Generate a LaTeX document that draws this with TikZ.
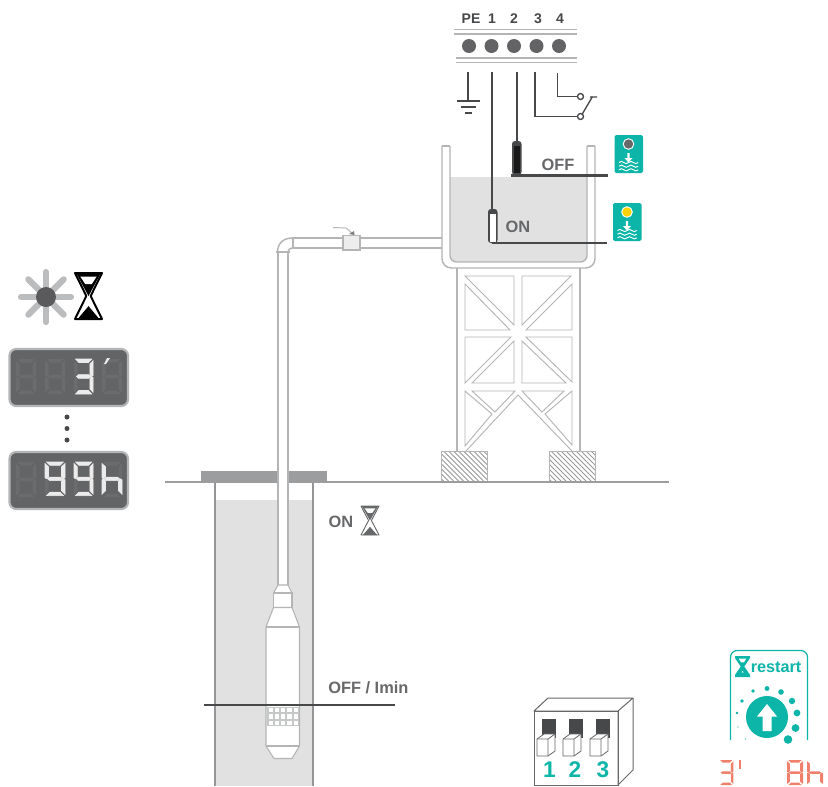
\documentclass[tikz,border=0pt]{standalone}
\usepackage{fontspec}
\setmainfont{Liberation Sans}
\definecolor{teal1}{HTML}{0DB5A9}
\definecolor{txt}{HTML}{67686A}
\definecolor{dark}{HTML}{47484A}
\definecolor{pipeg}{HTML}{B4B5B6}
\definecolor{waterg}{HTML}{E1E1E1}
\definecolor{dispbg}{HTML}{636466}
\definecolor{dispgh}{HTML}{6B6C6E}
\definecolor{redseg}{HTML}{F0806C}
\definecolor{segw}{HTML}{EBEBEB}
\tikzset{
 pipeline/.style={draw=pipeg,line width=1.1pt},
 thinline/.style={draw=pipeg,line width=.7pt},
 wire/.style={draw=dark,line width=1pt},
 levelline/.style={draw=dark,line width=1.7pt},
 bar/.style={draw=pipeg,line width=1pt},
 lab/.style={font=\fontsize{12.3}{14}\selectfont\bfseries,text=txt,inner sep=0pt},
 termlab/.style={font=\fontsize{10.5}{12}\selectfont\bfseries,text=dark,inner sep=0pt},
 dipn/.style={font=\fontsize{17}{18}\selectfont\bfseries,text=teal1,inner sep=0pt},
 litseg/.style={fill=segw,draw=segw,line width=.4pt},
}
\def\sega{(1.5,0)--(18.5,0)--(15,3.5)--(5,3.5)--cycle}
\def\segb{(20,1.5)--(20,16.5)--(18.2,17.5)--(16.5,15.5)--(16.5,5)--cycle}
\def\segc{(20,33.5)--(20,18.5)--(18.2,17.5)--(16.5,19.5)--(16.5,30)--cycle}
\def\segd{(1.5,35)--(18.5,35)--(15,31.5)--(5,31.5)--cycle}
\def\sege{(0,33.5)--(0,18.5)--(1.8,17.5)--(3.5,19.5)--(3.5,30)--cycle}
\def\segf{(0,1.5)--(0,16.5)--(1.8,17.5)--(3.5,15.5)--(3.5,5)--cycle}
\def\segg{(2.5,17.5)--(4.5,15.7)--(15.5,15.7)--(17.5,17.5)--(15.5,19.3)--(4.5,19.3)--cycle}
% x y xscale yscale list style
\newcommand\digitseg[6]{\begin{scope}[shift={(#1,#2)},xscale=#3,yscale=#4]
 \foreach \s in {#5}{\path[#6] \s;}
\end{scope}}
\newcommand\hourglass[6]{\begin{scope}[shift={(#1,#2)},xscale=#3,yscale=#4]
 \draw[#5,line width=#6,line join=round] (0,0)--(1,0)--(.58,.5)--(1,1)--(0,1)--(.42,.5)--cycle;
 \fill[#5] (.04,0)--(.96,0)--(.5,.5)--cycle;
 \fill[white] (.2,.08)--(.8,.08)--(.62,.24)--(.38,.24)--cycle;
 \fill[#5] (.5,.72)--(.9,1)--(.1,1)--cycle;
\end{scope}}
\newcommand\badge[3]{\begin{scope}[shift={(#1,#2)}]
 \fill[teal1,rounded corners=1.2pt] (0,0) rectangle (28.5,38);
 \fill[#3,draw=white,line width=.7pt] (14,9) circle[radius=5.3];
 \fill[white] (12.9,18)--(15.1,18)--(15.1,23)--(18,23)--(14,27.5)--(10,23)--(12.9,23)--cycle;
 \foreach \yy/\xa in {27.5/4.5,31.2/4.5,34.8/4.5}{
  \draw[white,line width=.7pt] (\xa,\yy) sin ++(2.4,-1.1) cos ++(2.4,1.1) sin ++(2.4,1.1) cos ++(2.4,-1.1) sin ++(2.4,-1.1) cos ++(2.4,1.1) sin ++(2.4,1.1) cos ++(2.4,-1.1);
 }
\end{scope}}
\begin{document}
\begin{tikzpicture}[x=.75pt,y=-.75pt]
\useasboundingbox (0,0) rectangle (828,786);
\fill[white] (0,0) rectangle (828,786);

% ---------- terminal block
\node[termlab] (tpe) at (471,19) {PE};
\node[termlab] (t1) at (492,19) {1};
\node[termlab] (t2) at (514,19) {2};
\node[termlab] (t3) at (538,19) {3};
\node[termlab] (t4) at (560,19) {4};
\foreach \yy in {29.5,34}{\draw[bar] (454,\yy)--(577,\yy);}
\foreach \yy in {58,62.5}{\draw[bar] (455.5,\yy)--(577,\yy);}
\foreach \xx in {469,491.5,514,536.5,559}{\fill[dark!85] (\xx,46) circle[radius=7];}
% earth
\draw[wire] (468,72)--(468,101);
\draw[wire] (457,101)--(480,101) (461,107)--(476,107) (465,113)--(472,113);

% ---------- tank
\path[fill=waterg,rounded corners=5pt] (450,177)--(450,262)--(587,262)--(587,177);
\draw[pipeline,rounded corners=7pt] (442,146)--(442,268)--(595,268)--(595,146);
\draw[pipeline,rounded corners=5pt] (450,146)--(450,262)--(587,262)--(587,146);
\draw[pipeline] (442,146)--(450,146) (587,146)--(595,146);

% wires and floats
\draw[wire] (492,72)--(492,210);
\draw[wire] (517,72)--(517,141);
\draw[wire] (535,72)--(535,116.5)--(577.5,116.5);
\draw[wire] (557.5,73)--(557.5,96.5)--(577.5,96.5);
\draw[wire] (582,114.5)--(592.5,96.5) (590,97)--(597,97);
\draw[wire,fill=white] (580.5,116.5) circle[radius=3];
\draw[wire,fill=white] (580.5,96.5) circle[radius=3];
\fill[dark,rounded corners=2.2pt] (512,175)--(512,141)--(521.5,141)--(521.5,175)--cycle;
\fill[black!90] (514,146)--(519.5,146)--(519.5,173)--(514,173)--cycle;
\fill[dark,rounded corners=2.2pt] (488,243)--(488,209)--(497.5,209)--(497.5,243)--cycle;
\fill[white] (489.5,214)--(496,214)--(496,241.5)--(489.5,241.5)--cycle;
\draw[levelline] (511,175.5)--(608,175.5);
\draw[levelline] (492,243)--(607,243);
\node[lab] (off) at (558,165) {OFF};
\node[lab] (on1) at (518,227) {ON};
\badge{614.5}{135}{txt}
\badge{613}{203}{yellow!70!orange}

% ---------- tower
\draw[pipeline] (457,268)--(457,451) (580,268)--(580,451);
\begin{scope}[thinline]
\draw (465,276)--(514,276)--(514,325)--cycle;
\draw (465,284)--(510,330)--(465,330)--cycle;
\draw (522,276)--(571,276)--(522,325)--cycle;
\draw (572,284)--(572,330)--(526,330)--cycle;
\draw (465,337)--(511,337)--(465,383)--cycle;
\draw (514,341)--(514,383)--(472,383)--cycle;
\draw (526,337)--(572,337)--(572,382)--cycle;
\draw (522,341)--(566,383)--(522,383)--cycle;
\draw (472,391)--(515,391)--(495,412)--cycle;
\draw (465,391)--(492,414)--(465,446)--cycle;
\draw (522,391)--(564,391)--(542,412)--cycle;
\draw (572,391)--(572,445)--(545,414)--cycle;
\draw (466,451)--(518,395)--(572,451);
\end{scope}
% footings
\foreach \xx in {441.5,549}{
 \begin{scope}
 \clip (\xx,451) rectangle ++(46,30);
 \foreach \k in {-30,-25,...,50}{\draw[pipeg!85!black,line width=.65pt] (\xx+\k,449)--(\xx+\k+34,483);}
 \end{scope}
 \draw[thinline] (\xx,451) rectangle ++(46,30);
}

% ---------- well
\fill[waterg] (215,500) rectangle (313,786);
\draw[draw=txt!70,line width=1.5pt] (215,482)--(215,786) (312.5,482)--(312.5,786);
\draw[draw=txt!65,line width=1.5pt] (165,481.5)--(669,481.5);
\fill[txt!65] (201,471) rectangle (327,482.5);

% pipe
\fill[white] (278,252) rectangle (288,590);
\draw[pipeline] (278,252)--(278,586) (288,252)--(288,586);
\draw[pipeline] (277.5,252) .. controls (277.5,243) and (284,238) .. (292,238);
\draw[pipeline] (288,252) .. controls (288,250) and (290,248) .. (292,248);
\draw[draw=pipeg,line width=1.5pt] (276,252)--(289.5,252) (292.5,236.5)--(292.5,249);
\draw[pipeline] (292.5,238)--(442,238) (292.5,248)--(442,248);
\draw[pipeline,fill=waterg!60] (343,235.5) rectangle (360,250);
\draw[thinline] (333,227.5)--(346,228)--(352,233);
\fill[pipeg!70!black] (349,234)--(354,231)--(354.5,235)--cycle;

% pump
\draw[thinline,line width=.8pt,fill=white,line join=round] (278,585)--(273.5,593)--(292,593)--(288,585)--cycle;
\draw[thinline,line width=.8pt,fill=white] (273.5,593) rectangle (292,607.5);
\draw[thinline,line width=.8pt,fill=white,line join=round] (273.5,607.5)--(266,627)--(266,746)--(274,758.5)--(292,758.5)--(299.5,746)--(299.5,627)--(292,607.5)--cycle;
\draw[thinline,line width=.8pt] (266,627)--(299.5,627) (266,746)--(299.5,746);
\fill[waterg!40!pipeg] (266.5,707) rectangle (299,726);
\foreach \ii in {0,1,2,3,4}{\foreach \jj in {0,1,2}{
 \fill[white] (268.5+\ii*6.3,708+\jj*6.3) rectangle ++(4.3,4.3);}}
\draw[levelline] (204,705)--(395,705);
\node[lab,anchor=west] (offi) at (328,688) {OFF / Imin};
\node[lab] (on2) at (341,522) {ON};
\hourglass{361}{506}{18}{29}{txt}{.7pt}

% ---------- left column
\foreach \aa in {0,45,...,315}{\draw[pipeg!90,line width=4.6pt,line cap=round] (46,297)--++(\aa:25);}
\fill[dark!90] (46,297) circle[radius=10];
\hourglass{75}{273}{27}{46}{black}{1.5pt}

\foreach \dy in {349,452}{
 \draw[draw=pipeg,line width=1.6pt,fill=dispbg,rounded corners=5pt] (9.5,\dy) rectangle (128,\dy+57);
 \foreach \dx in {16,45,74,102}{\digitseg{\dx}{\dy+10}{1}{1}{\sega,\segb,\segc,\segd,\sege,\segf,\segg}{fill=dispgh}}
}
\digitseg{74}{359}{.96}{1}{\sega,\segb,\segc,\segd,\segg}{litseg}
\fill[segw] (104,364)--(107,358)--(110,358)--(106,364)--cycle;
\digitseg{45}{462}{1}{.96}{\sega,\segb,\segc,\segd,\segf,\segg}{litseg}
\digitseg{74}{462}{.96}{.96}{\sega,\segb,\segc,\segd,\segf,\segg}{litseg}
\digitseg{102}{462}{1}{.96}{\segc,\sege,\segf,\segg}{litseg}
\foreach \yy in {417,428.5,440}{\fill[dark] (67,\yy) circle[radius=2.5];}

% ---------- DIP switch
\draw[draw=txt,line width=.75pt,line join=round] (534,711)--(548,698)--(633,698)--(618,711)--cycle;
\draw[draw=txt,line width=.75pt,line join=round] (633,698)--(633,770)--(618,785)--(618,711);
\draw[draw=txt,line width=.75pt] (534,785)--(534,711)--(618,711)--(618,785)--cycle;
\foreach \sx/\tx in {542/537,569/563,596/590}{
 \fill[dark] (\sx,719) rectangle ++(14,19);
 \draw[draw=txt,line width=.6pt,fill=white,line join=round] (\tx,739)--(\tx+7,734)--(\tx+18,734)--(\tx+18,751)--(\tx+11,756)--(\tx,756)--cycle;
 \draw[draw=txt,line width=.6pt] (\tx,739)--(\tx+11,739)--(\tx+18,734) (\tx+11,739)--(\tx+11,756);
}
\node[dipn] (d1) at (549.5,770) {1};
\node[dipn] (d2) at (575,770) {2};
\node[dipn] (d3) at (603,770) {3};

% ---------- restart dial
\draw[teal1,line width=.9pt,rounded corners=5pt] (730.5,740)--(730.5,650.5)--(807.5,650.5)--(807.5,740);
\begin{scope}[shift={(735,656)},xscale=15,yscale=21]
 \fill[teal1] (0,0)--(1,0)--(1,.1)--(.62,.5)--(1,.9)--(1,1)--(0,1)--(0,.9)--(.38,.5)--(0,.1)--cycle;
 \fill[white] (.25,.12)--(.75,.12)--(.6,.3)--(.4,.3)--cycle;
 \fill[white] (.5,.72)--(.42,.78)--(.6,.78)--cycle;
\end{scope}
\node[font=\fontsize{12.2}{14}\selectfont\bfseries,text=teal1,inner sep=0pt,anchor=west] (rst) at (750.5,667) {restart};
\fill[teal1] (767,717) circle[radius=21];
\fill[white] (767,704)--(777,716.5)--(771.5,716.5)--(771.5,731)--(762.5,731)--(762.5,716.5)--(757,716.5)--cycle;
\foreach \xx/\yy/\rr in {737/713/1.3,742/701/1.9,753/691/1.9,767/688.5/2.4,781/692/2.8,792/701/3.2,797/713/3.4,795.5/728/3.9,788/739.5/4.3,738/727/.7,745.5/739/.6}{
 \fill[teal1] (\xx,\yy) circle[radius=\rr];}
% red read-outs
\digitseg{719}{760}{.72}{.72}{\sega,\segb,\segc,\segd,\segg}{fill=redseg}
\fill[redseg] (738.5,760) rectangle (741,769);
\digitseg{787}{760}{.8}{.72}{\sega,\segb,\segc,\segd,\sege,\segf,\segg}{fill=redseg}
\digitseg{807}{760}{.8}{.72}{\segc,\sege,\segf,\segg}{fill=redseg}
\end{tikzpicture}
\end{document}
